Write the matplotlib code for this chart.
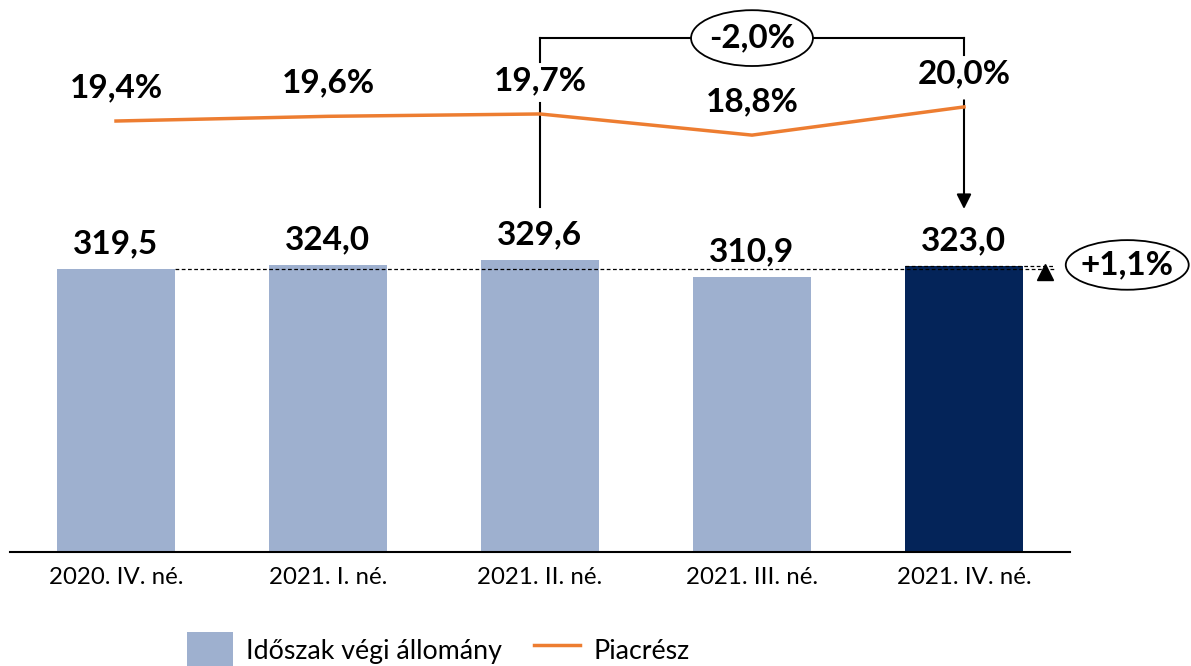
import matplotlib
matplotlib.use("Agg")
import matplotlib.pyplot as plt
from matplotlib.patches import Ellipse, Patch
from matplotlib.lines import Line2D

plt.rcParams['font.family'] = ['Lato', 'DejaVu Sans']

periods = ["2020. IV. né.", "2021. I. né.", "2021. II. né.", "2021. III. né.", "2021. IV. né."]
stock = [319.5, 324.0, 329.6, 310.9, 323.0]
share = [19.4, 19.6, 19.7, 18.8, 20.0]
stock_labels = ["319,5", "324,0", "329,6", "310,9", "323,0"]
share_labels = ["19,4%", "19,6%", "19,7%", "18,8%", "20,0%"]
share_change = "-2,0%"
stock_change = "+1,1%"

light = "#9EB0CF"
dark = "#042459"
orange = "#ED7D31"

fig = plt.figure(figsize=(11.91, 6.66), dpi=100)
ax = fig.add_axes([10 / 1191, 114 / 666, 1060 / 1191, 552 / 666])
x = list(range(len(periods)))
colors = [light] * (len(periods) - 1) + [dark]
ax.bar(x, stock, width=0.557, color=colors, zorder=2)
ax.set_xlim(-0.5, 4.5)
ax.set_ylim(0, 623)

for xi, v, lab in zip(x, stock, stock_labels):
    ax.annotate(lab, (xi, v), xytext=(0, 18), textcoords="offset points",
                ha="center", va="center", fontsize=24, fontweight="bold")

for s in ["top", "right", "left"]:
    ax.spines[s].set_visible(False)
ax.spines["bottom"].set_linewidth(1.5)
ax.set_yticks([])
ax.set_xticks(x)
ax.set_xticklabels(periods, fontsize=17.3)
ax.tick_params(axis="x", length=0, pad=11)

ax2 = ax.twinx()
ax2.plot(x, share, color=orange, lw=2.5, zorder=3)
ax2.set_ylim(1.06, 24.55)
ax2.axis("off")
for xi, v, lab in zip(x, share, share_labels):
    ax2.annotate(lab, (xi, v), xytext=(0, 24), textcoords="offset points",
                 ha="center", va="center", fontsize=24, fontweight="bold")

# dashed reference lines
ax.plot([0.28, 4.43], [stock[0], stock[0]], ls=(0, (3, 2)), color="black", lw=0.9, zorder=4, clip_on=False)
ax.plot([3.72, 4.43], [stock[4], stock[4]], ls=(0, (3, 2)), color="black", lw=0.9, zorder=4, clip_on=False)
ax.plot([4.38], [316], marker="^", color="black", ms=11, clip_on=False, zorder=5)
ax.add_patch(Ellipse((4.77, 324), 0.58, 56, facecolor="white", edgecolor="black", lw=1.3,
                     clip_on=False, zorder=5))
ax.text(4.77, 324, stock_change, ha="center", va="center", fontsize=24, fontweight="bold",
        zorder=6, clip_on=False)

# bracket for market share change
top = 580
ax.plot([2, 2], [389, 507], color="black", lw=1.5, zorder=4)
ax.plot([2, 2], [553, top], color="black", lw=1.5, zorder=4)
ax.plot([2, 4], [top, top], color="black", lw=1.5, zorder=4)
ax.plot([4, 4], [top, 561], color="black", lw=1.5, zorder=4)
ax.annotate("", xy=(4, 384), xytext=(4, 513),
            arrowprops=dict(arrowstyle="-|>", color="black", lw=1.5, mutation_scale=22))
ax.add_patch(Ellipse((3, top), 0.575, 63, facecolor="white", edgecolor="black", lw=1.3, zorder=5))
ax.text(3, top, share_change, ha="center", va="center", fontsize=24, fontweight="bold", zorder=6)

handles = [Patch(facecolor=light), Line2D([0], [0], color=orange, lw=2.5)]
fig.legend(handles, ["Időszak végi állomány", "Piacrész"], loc="center",
           bbox_to_anchor=(0.368, 0.024), ncol=2, frameon=False, fontsize=19.3,
           handlelength=1.7, handleheight=1.7, handletextpad=0.5, columnspacing=1.2)

fig.savefig("out.png", dpi=100)
